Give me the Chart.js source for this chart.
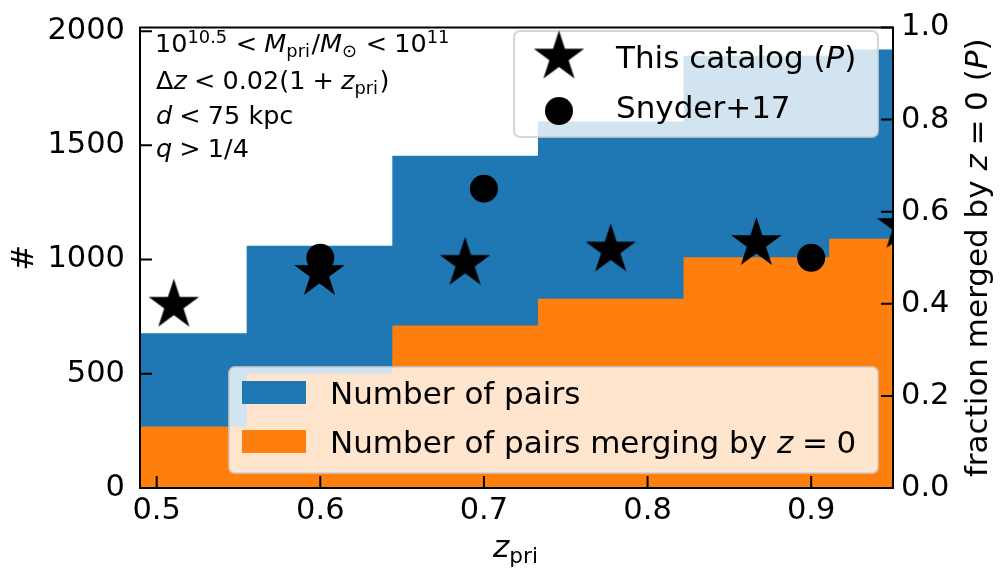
<!DOCTYPE html>
<html>
<head>
<meta charset="utf-8">
<script src="https://cdn.jsdelivr.net/npm/chart.js@4.4.1/dist/chart.umd.min.js"></script>
<style>
  html, body { margin: 0; padding: 0; background: #fff; }
  canvas { display: block; }
</style>
</head>
<body>
<canvas id="chart" width="1001" height="572"></canvas>
<script>
"use strict";

// histogram bins in z_pri (edges) and counts per bin
const binEdges = [0.466, 0.555, 0.644, 0.733, 0.822, 0.911, 1.0];
const nPairs = [677, 1060, 1455, 1604, 1892, 1920];
const nMerging = [269, 500, 711, 829, 1010, 1091];

// merged fraction P (right axis)
const zCatalog = [0.5105, 0.5995, 0.6885, 0.7775, 0.8665, 0.9555];
const fracCatalog = [0.397, 0.466, 0.488, 0.517, 0.531, 0.568];
const zSnyder = [0.6, 0.7, 0.9];
const fracSnyder = [0.5, 0.65, 0.5];

// ticks
const xTicks = [0.5, 0.6, 0.7, 0.8, 0.9];
const yTicks = [0, 500, 1000, 1500, 2000];
const y2Ticks = [0, 0.2, 0.4, 0.6, 0.8, 1.0];

const BLUE = "#1f77b4";
const ORANGE = "#ff7f0e";
const FAM = '"DejaVu Sans"';
const STAR_R = 26.5;

function starCanvas(R) {
  const c = document.createElement("canvas");
  const s = Math.ceil(2 * R + 4);
  c.width = s; c.height = s;
  const g = c.getContext("2d");
  g.translate(s / 2, s / 2);
  g.beginPath();
  for (let k = 0; k < 10; k++) {
    const r = k % 2 ? R * 0.381966 : R;
    const a = -Math.PI / 2 + k * Math.PI / 5;
    g.lineTo(r * Math.cos(a), r * Math.sin(a));
  }
  g.closePath();
  g.fillStyle = "#000";
  g.fill();
  return c;
}
const STAR = starCanvas(STAR_R);

// steps: one point per edge, last count repeated at the final edge
function steps(counts) {
  return binEdges.map((e, i) => ({ x: e, y: counts[Math.min(i, counts.length - 1)] }));
}
const pts = (xs, ys) => xs.map((x, i) => ({ x, y: ys[i] }));

// rich text: [text, kind], kind r=roman i=italic sub sup _=relation gap
function rich(ctx, parts, size, x, y, draw) {
  let cx = x;
  for (const [t, k] of parts) {
    if (k === "_") { cx += 0.28 * size; continue; }
    let fs = size, dy = 0, it = k === "i";
    const script = k === "sub" || k === "sup";
    if (k === "sub") { fs = size * 0.7; dy = 0.2 * size; }
    if (k === "sup") { fs = size * 0.7; dy = -0.36 * size; }
    ctx.font = `${it ? "italic " : ""}${fs}px ${FAM}`;
    if (draw) ctx.fillText(t, cx, y + dy);
    cx += ctx.measureText(t).width + (script ? 0.06 * size : 0);
  }
  return cx - x;
}
function richCentered(ctx, parts, size, x, y) {
  const w = rich(ctx, parts, size, 0, 0, false);
  rich(ctx, parts, size, x - w / 2, y, true);
}

function roundBox(ctx, x0, y0, x1, y1, r) {
  ctx.beginPath();
  ctx.moveTo(x0 + r, y0);
  ctx.arcTo(x1, y0, x1, y1, r);
  ctx.arcTo(x1, y1, x0, y1, r);
  ctx.arcTo(x0, y1, x0, y0, r);
  ctx.arcTo(x0, y0, x1, y0, r);
  ctx.closePath();
  ctx.fillStyle = "rgba(255,255,255,0.8)";
  ctx.fill();
  ctx.strokeStyle = "rgba(204,204,204,0.8)";
  ctx.lineWidth = 2;
  ctx.stroke();
}

const decor = {
  id: "decor",
  afterDraw(chart) {
    const { ctx, chartArea: a, scales } = chart;
    ctx.save();
    ctx.fillStyle = "#000";
    ctx.textBaseline = "alphabetic";

    // frame + inward ticks
    ctx.strokeStyle = "#000";
    ctx.lineWidth = 2;
    ctx.strokeRect(a.left, a.top, a.right - a.left, a.bottom - a.top);
    const TL = 12;
    ctx.beginPath();
    scales.x.ticks.forEach((t) => {
      const p = scales.x.getPixelForValue(t.value);
      ctx.moveTo(p, a.bottom); ctx.lineTo(p, a.bottom - TL);
    });
    scales.y.ticks.forEach((t) => {
      const p = scales.y.getPixelForValue(t.value);
      ctx.moveTo(a.left, p); ctx.lineTo(a.left + TL, p);
    });
    scales.y2.ticks.forEach((t) => {
      const p = scales.y2.getPixelForValue(t.value);
      ctx.moveTo(a.right, p); ctx.lineTo(a.right - TL, p);
    });
    ctx.stroke();

    // selection notes
    ctx.fillStyle = "#000";
    const ann = 25.5;
    rich(ctx, [["10", "r"], ["10.5", "sup"], ["", "_"], ["<", "r"], ["", "_"], ["M", "i"], ["pri", "sub"],
      ["/", "r"], ["M", "i"], ["\u2299", "sub"], ["", "_"], ["<", "r"], ["", "_"], ["10", "r"], ["11", "sup"]], ann, 155, 52, true);
    rich(ctx, [["\u0394", "r"], ["z", "i"], ["", "_"], ["<", "r"], ["", "_"], ["0.02(1", "r"], ["", "_"], ["+", "r"], ["", "_"],
      ["z", "i"], ["pri", "sub"], [")", "r"]], ann, 156, 89, true);
    rich(ctx, [["d", "i"], ["", "_"], ["<", "r"], ["", "_"], ["75 kpc", "r"]], ann, 156, 124, true);
    rich(ctx, [["q", "i"], ["", "_"], [">", "r"], ["", "_"], ["1/4", "r"]], ann, 156, 157, true);

    // legend: markers
    const lf = 31;
    roundBox(ctx, 514, 31, 878, 137, 6);
    ctx.drawImage(STAR, 559 - STAR.width / 2, 57 - STAR.height / 2);
    ctx.fillStyle = "#000";
    ctx.beginPath(); ctx.arc(559, 111, 14, 0, Math.PI * 2); ctx.fill();
    rich(ctx, [["This catalog (", "r"], ["P", "i"], [")", "r"]], lf, 616, 68, true);
    rich(ctx, [["Snyder+17", "r"]], lf, 616, 118, true);

    // legend: histograms
    roundBox(ctx, 229, 367, 878, 473, 6);
    ctx.fillStyle = BLUE; ctx.fillRect(242, 381, 64, 23);
    ctx.fillStyle = ORANGE; ctx.fillRect(242, 430, 64, 23);
    ctx.fillStyle = "#000";
    rich(ctx, [["Number of pairs", "r"]], lf, 330, 404, true);
    rich(ctx, [["Number of pairs merging by ", "r"], ["z", "i"], ["", "_"], ["=", "r"], ["", "_"], ["0", "r"]], lf, 330, 453, true);

    // axis titles
    const af = 31;
    richCentered(ctx, [["z", "i"], ["pri", "sub"]], af, (a.left + a.right) / 2, 557);
    const cy = (a.top + a.bottom) / 2;
    ctx.save();
    ctx.translate(33, cy); ctx.rotate(-Math.PI / 2);
    richCentered(ctx, [["#", "r"]], af, 0, 0);
    ctx.restore();
    ctx.save();
    ctx.translate(987, cy); ctx.rotate(-Math.PI / 2);
    richCentered(ctx, [["fraction merged by ", "r"], ["z", "i"], ["", "_"], ["=", "r"], ["", "_"], ["0 (", "r"], ["P", "i"], [")", "r"]], af, 0, 0);
    ctx.restore();

    ctx.restore();
  },
};

const tickFont = { family: "DejaVu Sans", size: 30.5 };

new Chart(document.getElementById("chart"), {
  type: "line",
  data: {
    datasets: [
      { type: "scatter", label: "This catalog (P)", data: pts(zCatalog, fracCatalog), yAxisID: "y2",
        pointStyle: STAR, pointRadius: STAR_R, pointHoverRadius: STAR_R, showLine: false, clip: 0, order: 1 },
      { type: "scatter", label: "Snyder+17", data: pts(zSnyder, fracSnyder), yAxisID: "y2",
        pointStyle: "circle", pointRadius: 14, pointHoverRadius: 14, backgroundColor: "#000", borderWidth: 0,
        showLine: false, clip: 0, order: 0 },
      { label: "Number of pairs merging by z = 0", data: steps(nMerging), yAxisID: "y", stepped: "before",
        fill: "origin", backgroundColor: ORANGE, borderWidth: 0, pointRadius: 0, order: 2 },
      { label: "Number of pairs", data: steps(nPairs), yAxisID: "y", stepped: "before",
        fill: "origin", backgroundColor: BLUE, borderWidth: 0, pointRadius: 0, order: 3 },
    ],
  },
  options: {
    responsive: false,
    animation: false,
    devicePixelRatio: 1,
    events: [],
    layout: { padding: { top: 15, left: 0, right: 0, bottom: 0 } },
    plugins: { legend: { display: false }, tooltip: { enabled: false } },
    scales: {
      x: {
        type: "linear", min: 0.4898, max: 0.95,
        grid: { display: false, drawTicks: false }, border: { display: false },
        ticks: { font: tickFont, color: "#000", padding: 5, maxRotation: 0, callback: (v) => v.toFixed(1) },
        afterBuildTicks: (s) => { s.ticks = xTicks.map((v) => ({ value: v })); },
        afterFit: (s) => { s.height = 84; s.paddingLeft = 0; s.paddingRight = 0; },
      },
      y: {
        type: "linear", position: "left", min: 0, max: 2016,
        grid: { display: false, drawTicks: false }, border: { display: false },
        ticks: { font: tickFont, color: "#000", padding: 15, callback: (v) => String(v) },
        afterBuildTicks: (s) => { s.ticks = yTicks.map((v) => ({ value: v })); },
        afterFit: (s) => { s.width = 140; s.paddingTop = 0; s.paddingBottom = 0; },
      },
      y2: {
        type: "linear", position: "right", min: 0, max: 1,
        grid: { display: false, drawTicks: false }, border: { display: false },
        ticks: { font: tickFont, color: "#000", padding: 8, callback: (v) => v.toFixed(1) },
        afterBuildTicks: (s) => { s.ticks = y2Ticks.map((v) => ({ value: v })); },
        afterFit: (s) => { s.width = 108; s.paddingTop = 0; s.paddingBottom = 0; },
      },
    },
  },
  plugins: [decor],
});
</script>
</body>
</html>
